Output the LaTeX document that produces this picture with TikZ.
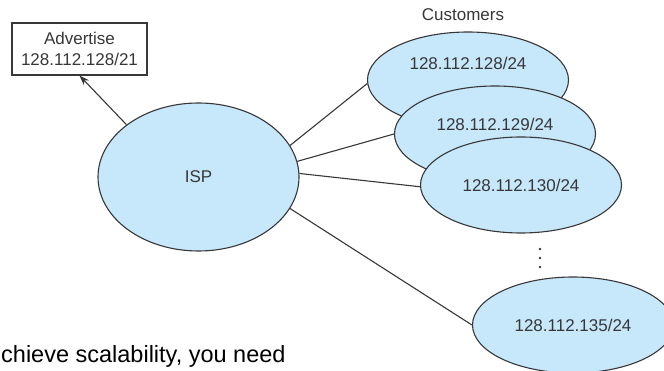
\documentclass[tikz,border=0pt]{standalone}
\usepackage{fontspec}
\setmainfont{Liberation Sans}
\usepackage{tikz}
\usetikzlibrary{shapes.geometric,arrows.meta}
\definecolor{netblue}{RGB}{199,232,250}
\definecolor{ink}{RGB}{55,55,58}
\tikzset{
  net/.style={ellipse, draw=ink, line width=1.1pt, fill=netblue, inner sep=0pt,
    minimum width=201pt, minimum height=96pt, text=ink,
    font=\fontsize{17}{20}\selectfont},
  netlabel/.style={text=ink, font=\fontsize{17}{20}\selectfont},
  adbox/.style={rectangle, draw=ink, line width=1.1pt, fill=white, text=ink,
    minimum width=135pt, minimum height=52pt, align=center,
    font=\fontsize{17}{21}\selectfont},
  link/.style={draw=ink, line width=1.1pt}
}
\begin{document}
\begin{tikzpicture}[x=1pt, y=-1pt]
\useasboundingbox (0,0) rectangle (664,371);
% ISP and advertised prefix
\node[net, minimum height=148pt] (isp) at (198.5,177) {ISP};
\node[adbox] (adv) at (79.5,49) {Advertise\\128.112.128/21};
\draw[link, -{Stealth[length=10pt, width=7pt]}] (isp.144) -- (adv.south);
% customers, each drawn over the previous one
\node[netlabel] (cust) at (463,15) {Customers};
\node[net, label={[netlabel, yshift=17pt]center:128.112.128/24}] (c1) at (468,80) {};
\node[net, label={[netlabel, yshift=10pt]center:128.112.129/24}] (c2) at (495,134) {};
\node[net] (c3) at (521,185) {128.112.130/24};
\node[net] (c4) at (573,325) {128.112.135/24};
\draw[link] (isp.19) -- (c1.182);
\draw[link] (isp.9) -- (c2.180);
\draw[link] (isp.2) -- (c3.181);
\draw[link] (isp.-19) -- (c4.180);
% more customers between
\foreach \y in {249,258,267}
  \fill[ink] (540,\y) circle (1.3pt);
% text of the page below
\node[anchor=base west, inner sep=0pt, text=black, font=\fontsize{23.5}{28}\selectfont] (body) at (1,362) {chieve scalability, you need};
\end{tikzpicture}
\end{document}
